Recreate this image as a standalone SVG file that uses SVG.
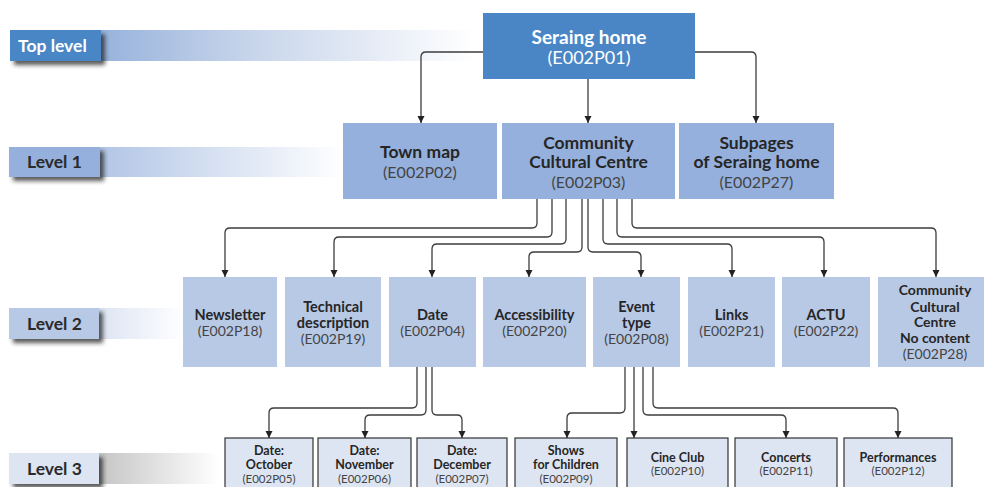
<svg xmlns="http://www.w3.org/2000/svg" width="985" height="487" viewBox="0 0 985 487">
<defs>
<style>
text{font-family:Lato,"Open Sans","Liberation Sans",sans-serif;text-anchor:middle}
.t0{fill:#fff;font-size:19px;font-weight:bold}
.i0{fill:#fff;font-size:18px}
.t1{fill:#262626;font-size:17.5px;font-weight:bold}
.i1{fill:#444;font-size:16px}
.t2{fill:#262626;font-size:14.5px;font-weight:bold}
.i2{fill:#444;font-size:14px}
.t2s{fill:#262626;font-size:14px;font-weight:bold}
.t3{fill:#262626;font-size:12.5px;font-weight:bold}
.i3{fill:#444;font-size:11.5px}
.lbl{font-size:17.5px;font-weight:bold;text-anchor:start}
.n0{fill:#4a86c5}
.n1{fill:#95b0dc}
.n2{fill:#b8c9e6}
.n3{fill:#dde5f2;stroke:#333;stroke-width:1.2}
.c{fill:none;stroke:#3c3c3c;stroke-width:1.3;marker-end:url(#ah)}
</style>
<marker id="ah" markerUnits="userSpaceOnUse" markerWidth="8" markerHeight="8" refX="7" refY="4" orient="auto"><path d="M0,0.5 L7,4 L0,7.5 z" fill="#222"/></marker>
<linearGradient id="g0" x1="0" x2="1" y1="0" y2="0"><stop offset="0" stop-color="#7a9ed3"/><stop offset="0.5" stop-color="#c5d3ea"/><stop offset="1" stop-color="#fff"/></linearGradient>
<linearGradient id="g1" x1="0" x2="1" y1="0" y2="0"><stop offset="0" stop-color="#95b0dc"/><stop offset="1" stop-color="#fff"/></linearGradient>
<linearGradient id="g2" x1="0" x2="1" y1="0" y2="0"><stop offset="0" stop-color="#b8c9e6"/><stop offset="1" stop-color="#fff"/></linearGradient>
<linearGradient id="g3" x1="0" x2="1" y1="0" y2="0"><stop offset="0" stop-color="#9a9a9a"/><stop offset="1" stop-color="#fff"/></linearGradient>
<filter id="sh" x="-20%" y="-30%" width="150%" height="180%"><feDropShadow dx="4" dy="4" stdDeviation="2" flood-color="#222" flood-opacity="0.75"/></filter>
</defs>

<g id="levels">
<rect x="10" y="30" width="465" height="31" fill="url(#g0)"/>
<rect x="10" y="30" width="91" height="31" class="n0" filter="url(#sh)"/>
<text x="18" y="52" class="lbl" fill="#fff">Top level</text>
<rect x="9" y="147" width="335" height="30" fill="url(#g1)"/>
<rect x="9" y="147" width="91" height="30" class="n1" filter="url(#sh)"/>
<text x="27" y="168" class="lbl" fill="#2a2a2a">Level 1</text>
<rect x="9" y="308" width="176" height="31" fill="url(#g2)"/>
<rect x="9" y="308" width="90" height="31" class="n2" filter="url(#sh)"/>
<text x="27" y="330" class="lbl" fill="#2a2a2a">Level 2</text>
<rect x="9" y="453" width="210" height="31" fill="url(#g3)"/>
<rect x="9" y="453" width="90" height="31" fill="#dde5f2" filter="url(#sh)"/>
<text x="27" y="475" class="lbl" fill="#2a2a2a">Level 3</text>
</g>

<g id="connectors">
<path class="c" d="M483,52 H426 Q421,52 421,57 V123"/>
<path class="c" d="M588,79 V123"/>
<path class="c" d="M695,52 H751 Q756,52 756,57 V123"/>
<path class="c" d="M537,199 V223 Q537,228 532,228 H230 Q225,228 225,233 V277"/>
<path class="c" d="M552,199 V232 Q552,237 547,237 H339 Q334,237 334,242 V277"/>
<path class="c" d="M566,199 V239 Q566,244 561,244 H437 Q432,244 432,249 V277"/>
<path class="c" d="M582,199 V247 Q582,252 577,252 H534 Q529,252 529,257 V277"/>
<path class="c" d="M588,199 V247 Q588,252 593,252 H636 Q641,252 641,257 V277"/>
<path class="c" d="M603,199 V239 Q603,244 608,244 H727 Q732,244 732,249 V277"/>
<path class="c" d="M617,199 V232 Q617,237 622,237 H819 Q824,237 824,242 V277"/>
<path class="c" d="M632,199 V223 Q632,228 637,228 H931 Q936,228 936,233 V277"/>
<path class="c" d="M417,367 V403 Q417,408 412,408 H274 Q269,408 269,413 V438"/>
<path class="c" d="M426,367 V410 Q426,415 421,415 H370 Q365,415 365,420 V438"/>
<path class="c" d="M432,367 V410 Q432,415 437,415 H457 Q462,415 462,420 V438"/>
<path class="c" d="M625,367 V408 Q625,413 620,413 H572 Q567,413 567,418 V438"/>
<path class="c" d="M634,367 V438"/>
<path class="c" d="M643,367 V410 Q643,415 648,415 H781 Q786,415 786,420 V438"/>
<path class="c" d="M653,367 V403 Q653,408 658,408 H893 Q898,408 898,413 V438"/>
</g>

<g id="E002P01"><rect x="483" y="13" width="212" height="66" class="n0"/><text x="589" y="44" class="t0">Seraing home</text><text x="589" y="64" class="i0">(E002P01)</text></g>

<g id="E002P02"><rect x="343" y="123" width="154" height="76" class="n1"/><text x="420" y="158" class="t1">Town map</text><text x="420" y="178" class="i1">(E002P02)</text></g>
<g id="E002P03"><rect x="502" y="123" width="173" height="76" class="n1"/><text x="588.5" y="149" class="t1">Community</text><text x="588.5" y="168" class="t1">Cultural Centre</text><text x="588.5" y="188" class="i1">(E002P03)</text></g>
<g id="E002P27"><rect x="679" y="123" width="155" height="76" class="n1"/><text x="756.5" y="149" class="t1">Subpages</text><text x="756.5" y="168" class="t1">of Seraing home</text><text x="756.5" y="188" class="i1">(E002P27)</text></g>

<g id="E002P18"><rect x="183" y="277" width="94" height="90" class="n2"/><text x="230" y="320" class="t2">Newsletter</text><text x="230" y="336" class="i2">(E002P18)</text></g>
<g id="E002P19"><rect x="285" y="277" width="96" height="90" class="n2"/><text x="333" y="312" class="t2">Technical</text><text x="333" y="328" class="t2">description</text><text x="333" y="344" class="i2">(E002P19)</text></g>
<g id="E002P04"><rect x="389" y="277" width="87" height="90" class="n2"/><text x="432.5" y="320" class="t2">Date</text><text x="432.5" y="336" class="i2">(E002P04)</text></g>
<g id="E002P20"><rect x="483" y="277" width="103" height="90" class="n2"/><text x="534.5" y="320" class="t2">Accessibility</text><text x="534.5" y="336" class="i2">(E002P20)</text></g>
<g id="E002P08"><rect x="593" y="277" width="87" height="90" class="n2"/><text x="636.5" y="312" class="t2">Event</text><text x="636.5" y="328" class="t2">type</text><text x="636.5" y="344" class="i2">(E002P08)</text></g>
<g id="E002P21"><rect x="688" y="277" width="87" height="90" class="n2"/><text x="731.5" y="320" class="t2">Links</text><text x="731.5" y="336" class="i2">(E002P21)</text></g>
<g id="E002P22"><rect x="782" y="277" width="88" height="90" class="n2"/><text x="826" y="320" class="t2">ACTU</text><text x="826" y="336" class="i2">(E002P22)</text></g>
<g id="E002P28"><rect x="878" y="277" width="106" height="90" class="n2"/><text x="935" y="295" class="t2s">Community</text><text x="935" y="311.5" class="t2s">Cultural</text><text x="935" y="327" class="t2s">Centre</text><text x="935" y="343" class="t2s">No content</text><text x="935" y="359" class="i2">(E002P28)</text></g>

<g id="E002P05"><rect x="225" y="438" width="88" height="60" class="n3"/><text x="269" y="455" class="t3">Date:</text><text x="269" y="469" class="t3">October</text><text x="269" y="483" class="i3">(E002P05)</text></g>
<g id="E002P06"><rect x="318" y="438" width="93" height="60" class="n3"/><text x="364.5" y="455" class="t3">Date:</text><text x="364.5" y="469" class="t3">November</text><text x="364.5" y="483" class="i3">(E002P06)</text></g>
<g id="E002P07"><rect x="417" y="438" width="90" height="60" class="n3"/><text x="462" y="455" class="t3">Date:</text><text x="462" y="469" class="t3">December</text><text x="462" y="483" class="i3">(E002P07)</text></g>
<g id="E002P09"><rect x="515" y="438" width="102" height="60" class="n3"/><text x="566" y="455" class="t3">Shows</text><text x="566" y="469" class="t3">for Children</text><text x="566" y="483" class="i3">(E002P09)</text></g>
<g id="E002P10"><rect x="627" y="438" width="101" height="60" class="n3"/><text x="677.5" y="462" class="t3">Cine Club</text><text x="677.5" y="475" class="i3">(E002P10)</text></g>
<g id="E002P11"><rect x="735" y="438" width="102" height="60" class="n3"/><text x="786" y="462" class="t3">Concerts</text><text x="786" y="475" class="i3">(E002P11)</text></g>
<g id="E002P12"><rect x="844" y="438" width="108" height="60" class="n3"/><text x="898" y="462" class="t3">Performances</text><text x="898" y="475" class="i3">(E002P12)</text></g>
</svg>
